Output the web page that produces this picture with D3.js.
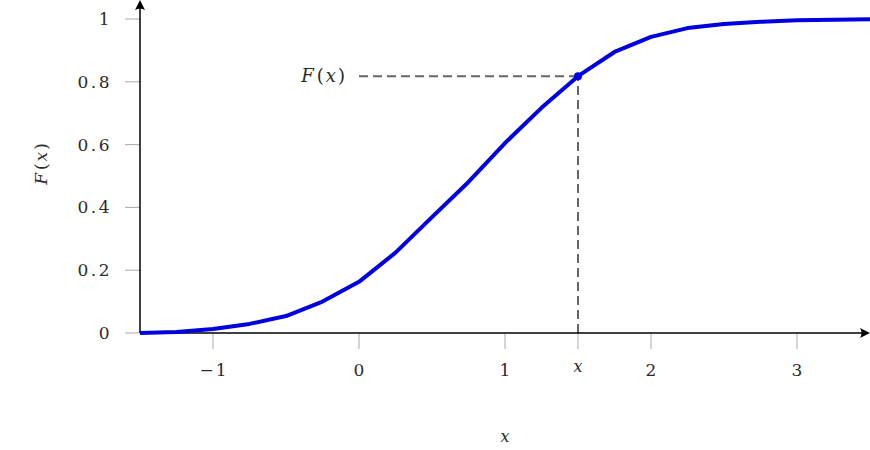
<!DOCTYPE html>
<html><head><meta charset="utf-8">
<script src="https://cdn.jsdelivr.net/npm/d3@7"></script>
<style>body{margin:0;background:#fff}</style>
</head><body><svg id="c" width="870" height="450"></svg>
<script>
const xs = [-1.5,-1.25,-1,-0.75,-0.5,-0.25,0,0.25,0.5,0.75,1,1.25,1.5,1.75,2,2.25,2.5,2.75,3,3.25,3.5];
const Fx = [0,0.003,0.013,0.029,0.054,0.10,0.163,0.256,0.369,0.481,0.605,0.717,0.818,0.895,0.943,0.971,0.984,0.991,0.996,0.998,0.999];
const xTicks = [-1,0,1,2,3];
const yTicks = [0,0.2,0.4,0.6,0.8,1];
const xMark = 1.5, FMark = 0.818;

const FONT = "'DejaVu Serif', 'Liberation Serif', serif";
const TXT = "#2a2a2a";
const svg = d3.select("#c");
const x = d3.scaleLinear().domain([-1.5,3.5]).range([140,870]);
const y = d3.scaleLinear().domain([0,1]).range([333,19]);

// ticks
const xt = xTicks.concat([xMark]);
svg.append("g").selectAll("line").data(xt).join("line")
  .attr("x1",d=>x(d)).attr("x2",d=>x(d)).attr("y1",y(0)).attr("y2",y(0)+16)
  .attr("stroke","#aaa").attr("stroke-width",1);
svg.append("g").selectAll("line").data(yTicks).join("line")
  .attr("x1",x(-1.5)-15).attr("x2",x(-1.5)).attr("y1",d=>y(d)).attr("y2",d=>y(d))
  .attr("stroke","#aaa").attr("stroke-width",1);

const fmt = d => d<0 ? "\u2212"+Math.abs(d) : String(d);
svg.append("g").selectAll("text").data(xTicks).join("text")
  .attr("font-family",FONT).attr("fill",TXT)
  .attr("x",d=>x(d)+1).attr("y",376).attr("text-anchor","middle").attr("font-size",17)
  .attr("letter-spacing",2).text(fmt);
svg.append("text").attr("font-family",FONT).attr("fill",TXT).attr("x",x(xMark)).attr("y",372).attr("text-anchor","middle")
  .attr("font-size",16).attr("font-style","italic").text("x");
svg.append("g").selectAll("text").data(yTicks).join("text")
  .attr("font-family",FONT).attr("fill",TXT)
  .attr("x",112).attr("y",d=>y(d)+6).attr("text-anchor","end").attr("font-size",17)
  .attr("letter-spacing",2.5).text(d=>String(d));

// dashed guides
svg.append("path").attr("d",`M${x(xMark)},${y(0)}V${y(FMark)}M${x(xMark)},${y(FMark)}H${x(0)}`)
  .attr("fill","none").attr("stroke","#666").attr("stroke-width",2).attr("stroke-dasharray","9,5");

// axes
svg.append("line").attr("x1",x(-1.5)).attr("x2",x(3.5)-2).attr("y1",y(0)).attr("y2",y(0)).attr("stroke","#000").attr("stroke-width",1.5);
svg.append("line").attr("x1",x(-1.5)).attr("x2",x(-1.5)).attr("y1",y(0)).attr("y2",2).attr("stroke","#000").attr("stroke-width",1.5);
svg.append("path").attr("d",`M${x(3.5)},${y(0)} l-10,-5 q3,5 0,10 z`).attr("fill","#000");
svg.append("path").attr("d",`M${x(-1.5)},0 l-5,10 q5,-3 10,0 z`).attr("fill","#000");

// curve
const line = d3.line().x((d,i)=>x(xs[i])).y(d=>y(d));
svg.append("path").datum(Fx).attr("d",line).attr("fill","none")
  .attr("stroke","#0000e0").attr("stroke-width",4).attr("stroke-linejoin","round");
svg.append("circle").attr("cx",x(xMark)).attr("cy",y(FMark)).attr("r",4).attr("fill","#0000e0");

function fxLabel(sel){
  sel.append("tspan").attr("font-style","italic").text("F");
  sel.append("tspan").attr("dx",3).text("(");
  sel.append("tspan").attr("font-style","italic").attr("dx",2).text("x");
  sel.append("tspan").attr("dx",2).text(")");
}
// labels
const fl = svg.append("text").attr("font-family",FONT).attr("fill",TXT).attr("x",345).attr("y",y(FMark)+6).attr("text-anchor","end").attr("font-size",18);
fxLabel(fl);
const yl = svg.append("text").attr("font-family",FONT).attr("fill",TXT).attr("transform","translate(47,164) rotate(-90)").attr("text-anchor","middle").attr("font-size",17);
fxLabel(yl);

svg.append("text").attr("font-family",FONT).attr("fill",TXT).attr("x",x(1)).attr("y",442).attr("text-anchor","middle").attr("font-size",16).attr("font-style","italic").text("x");
</script></body></html>
